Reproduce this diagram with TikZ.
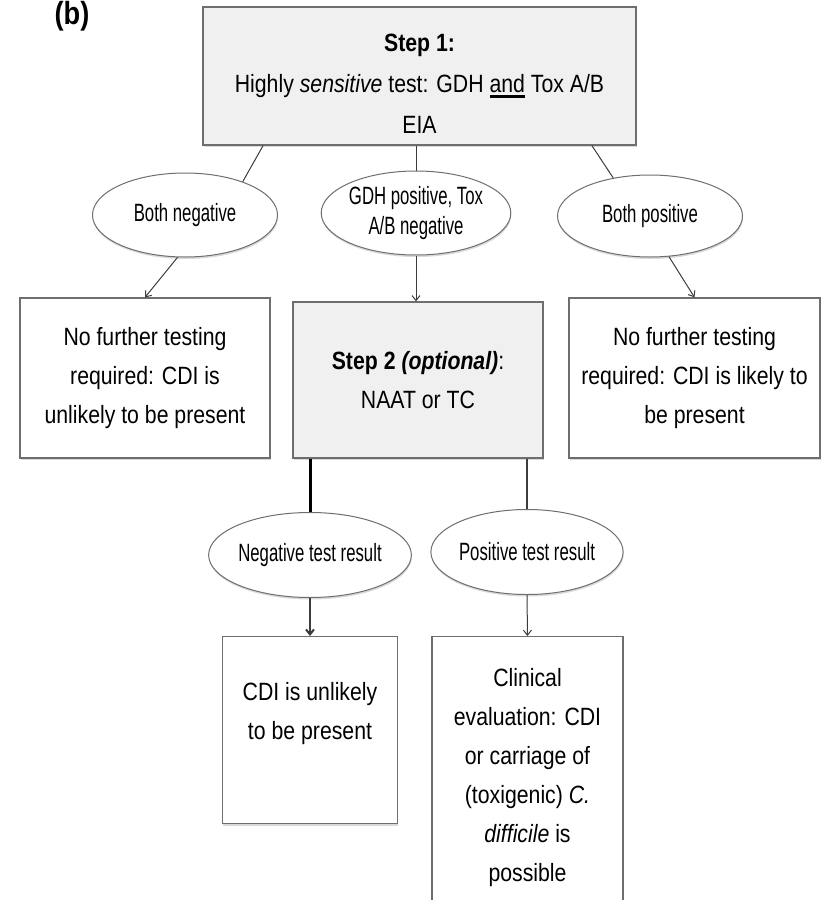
\documentclass[tikz,border=0pt]{standalone}
\usepackage{fontspec}
\setmainfont{Liberation Sans}[FakeStretch=0.85]
\newfontfamily\ovalfont{Liberation Sans}[FakeStretch=0.67]
\newcommand\heavyuline[1]{\setbox0\hbox{#1}\rlap{\rule[-5pt]{\wd0}{2.5pt}}\box0\relax}
\usetikzlibrary{arrows.meta,shapes.geometric,shadows}
\definecolor{boxedge}{HTML}{6E6E6E}
\definecolor{boxfill}{HTML}{F0F0F0}
\definecolor{linkgray}{HTML}{3C3C3C}

\begin{document}
\begin{tikzpicture}[
  x=1pt, y=-1pt,
  >={Straight Barb[length=5pt,width=8pt]},
  outbox/.style={draw=boxedge, line width=1.3pt, fill=white, align=center,
    inner sep=0pt, font=\fontsize{25}{39}\selectfont,
    drop shadow={shadow xshift=0.5pt, shadow yshift=-2pt, opacity=0.3}},
  stepbox/.style={outbox, fill=boxfill},
  result/.style={draw=boxedge, ellipse, line width=1pt, fill=white,
    align=center, inner sep=0pt, font=\ovalfont\fontsize{25}{30}\selectfont,
    minimum width=185pt, minimum height=84pt,
    drop shadow={shadow xshift=0.5pt, shadow yshift=-2pt, opacity=0.3}},
  link/.style={draw=linkgray, line width=1pt}
]
  \useasboundingbox (0,0) rectangle (826,900);
  \clip (0,0) rectangle (826,900);

  \node[anchor=base, inner sep=0pt, font=\bfseries\fontsize{32}{32}\selectfont] (tag) at (72,24) {(b)};

  % step 1 and its three outcomes
  \node[stepbox, minimum width=433pt, minimum height=138pt, font=\fontsize{25}{41}\selectfont] (s1) at (419.5,76)
    {\rule{0pt}{33pt}\textbf{Step 1:}\\Highly \textit{sensitive} test: GDH \heavyuline{and} Tox A/B\\EIA};
  \node[result] (bneg) at (185,215) {Both negative};
  \node[result] (gdh) at (416,213) {GDH positive, Tox\\A/B negative};
  \node[result, minimum height=82pt] (bpos) at (650,216) {Both positive};

  \node[outbox, minimum width=250pt, minimum height=160pt] (nf1) at (145,378)
    {No further testing\\required: CDI is\\unlikely to be present};
  \node[stepbox, minimum width=250pt, minimum height=156pt] (s2) at (418,380)
    {\textbf{Step 2 \textit{(optional)}}:\\NAAT or TC};
  \node[outbox, minimum width=251pt, minimum height=160pt] (nf2) at (694.5,378)
    {No further testing\\required: CDI is likely to\\be present};

  % step 2 outcomes
  \node[result, minimum height=85pt] (neg) at (310,555) {Negative test result};
  \node[result, minimum height=85pt] (pos) at (527,552) {Positive test result};
  \node[outbox, anchor=north, minimum width=175pt, minimum height=187pt] (cdi) at (310,636)
    {CDI is unlikely\\to be present\\~};
  \node[outbox, anchor=north, minimum width=191pt, minimum height=282pt] (clin) at (527.5,636)
    {Clinical\\evaluation: CDI\\or carriage of\\(toxigenic) \textit{C.}\\\textit{difficile} is\\possible};

  \draw[link] (s1.204.6) -- (bneg.30);
  \draw[link] (gdh.north |- s1.south) -- (gdh.north);
  \draw[link] (s1.338.4) -- (bpos.134.6);
  \draw[link, ->] (bneg.260) -- (nf1.north);
  \draw[link, ->] (gdh.south) -- (gdh.south |- s2.north);
  \draw[link, ->] (bpos.295) -- (nf2.north);
  \draw[link, line width=3pt, draw=black] (s2.south -| neg.north) -- (neg.north);
  \draw[link, line width=1.5pt] (s2.south -| pos.north) -- (pos.north);
  \draw[link, line width=2pt, ->] (neg.south) -- (cdi.north);
  \draw[link, ->] (pos.south) -- (clin.north);
\end{tikzpicture}
\end{document}
